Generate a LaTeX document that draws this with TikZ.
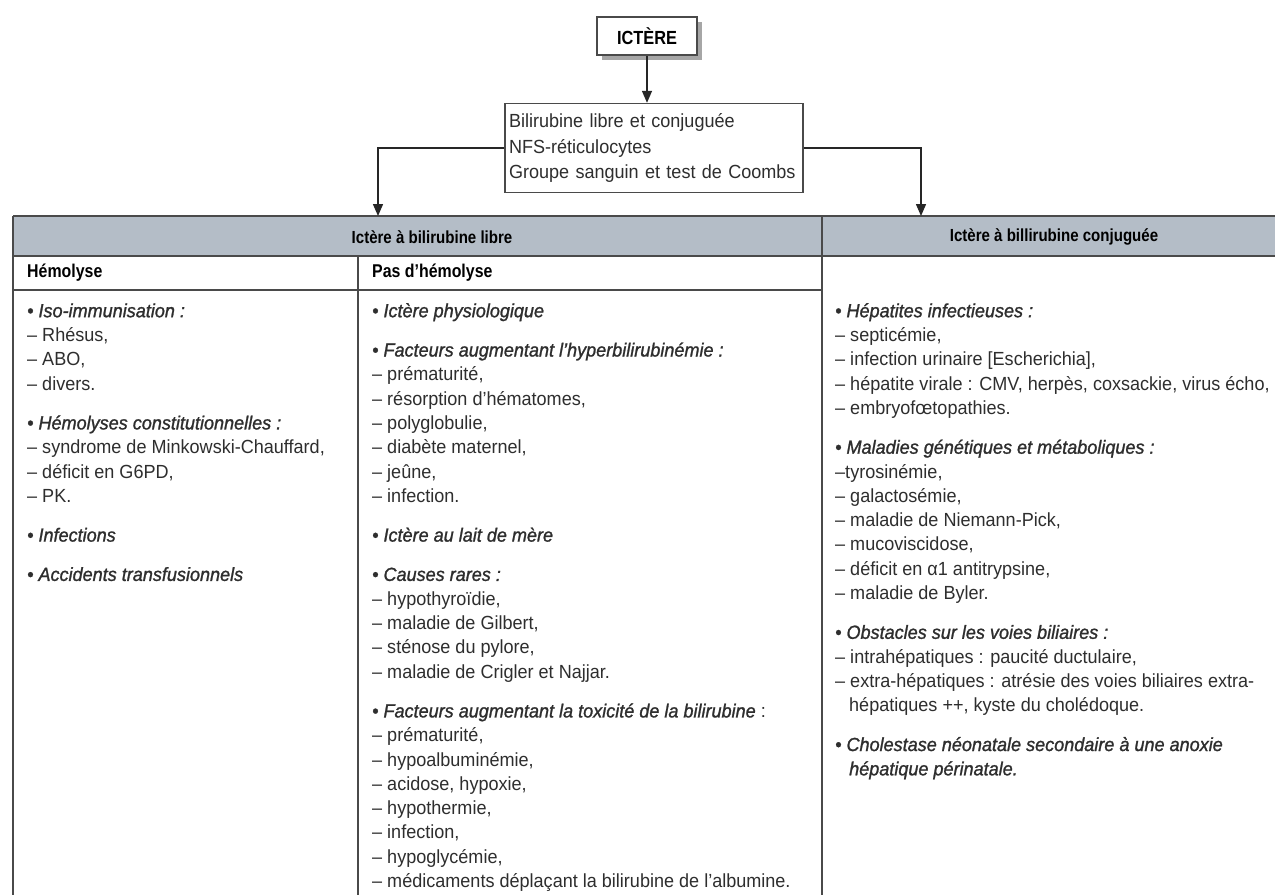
\documentclass[tikz,border=0pt]{standalone}
\usepackage{fontspec}
\setmainfont[FakeStretch=0.95]{Liberation Sans}
\newfontfamily\headit[FakeStretch=0.95,FakeBold=1.2]{Liberation Sans}
\newfontfamily\headbf[FakeStretch=0.86]{Liberation Sans}
\usetikzlibrary{arrows.meta,shadows}
\definecolor{rule}{HTML}{4A4A4A}
\definecolor{band}{HTML}{B4BDC7}
\definecolor{ink}{HTML}{2E2E2E}
\newcommand\kw[1]{{\headit\itshape #1}}

\begin{document}
\begin{tikzpicture}[x=1pt,y=-1pt,
  rulel/.style={draw=rule,line width=1.8pt},
  link/.style={draw=black!85,line width=1.4pt,-{Triangle[length=12pt,width=10pt]}},
  body/.style={anchor=north west,inner sep=0pt,align=left,text=ink,
    font=\fontsize{19}{24.3}\selectfont},
  cellhead/.style={anchor=base west,inner sep=0pt,text=black,
    font=\headbf\fontsize{18.5}{21}\selectfont\bfseries},
  bandtext/.style={inner sep=0pt,text=black,font=\headbf\fontsize{17.5}{21}\selectfont\bfseries}
]
\useasboundingbox (0,0) rectangle (1275,895);
\fill[white] (0,0) rectangle (1275,895);

% title box and the box of first tests
\node[draw=rule,line width=1.6pt,fill=white,minimum width=100pt,minimum height=38pt,
  drop shadow={shadow xshift=5pt,shadow yshift=-5pt,fill=gray!70,opacity=1},
  font=\headbf\fontsize{19}{21}\selectfont\bfseries] (ictere) at (647,36) {ICTÈRE};
\node[draw=rule,line width=1.4pt,fill=white,inner sep=4pt,text width=290pt,
  minimum height=89pt,align=left,text=ink,font=\fontsize{19}{25.5}\selectfont]
  (bili) at (654,148)
  {\raisebox{-3pt}{\parbox{290pt}{Bilirubine libre et conjuguée\\NFS-réticulocytes\\Groupe sanguin et test de Coombs}}};

% arrow ends on the top edge of the table
\coordinate (inL) at (378,216);
\coordinate (inR) at (921,216);

% table: heading band and rules
\fill[band] (13,216) rectangle (1275,256);
\draw[rulel] (13,216) -- (1275,216);
\draw[rulel] (13,256) -- (1275,256);
\draw[rulel] (13,290) -- (822,290);
\draw[rulel] (13,216) -- (13,895);
\draw[rulel] (358,256) -- (358,895);
\draw[rulel] (822,216) -- (822,895);

\draw[link] (ictere.south) -- (ictere.south |- bili.north);
\draw[link] (bili.west) -| (inL);
\draw[link] (bili.east) -| (inR);

\node[bandtext] (hlibre) at (432,237) {Ictère à bilirubine libre};
\node[bandtext] (hconj) at (1054,237) {Ictère à billirubine conjuguée};
\node[cellhead] (hemo) at (27,277) {Hémolyse};
\node[cellhead] (pashemo) at (372,277) {Pas d’hémolyse};

% column contents
\node[body] (colA) at (27,300) {\strut\kw{• Iso-immunisation :}\\
– Rhésus,\\
– ABO,\\
– divers.\\[15pt]
\kw{• Hémolyses constitutionnelles :}\\
– syndrome de Minkowski-Chauffard,\\
– déficit en G6PD,\\
– PK.\\[15pt]
\kw{• Infections}\\[15pt]
\kw{• Accidents transfusionnels}};

\node[body] (colB) at (372,300) {\strut\kw{• Ictère physiologique}\\[15pt]
\kw{• Facteurs augmentant l’hyperbilirubinémie :}\\
– prématurité,\\
– résorption d’hématomes,\\
– polyglobulie,\\
– diabète maternel,\\
– jeûne,\\
– infection.\\[15pt]
\kw{• Ictère au lait de mère}\\[15pt]
\kw{• Causes rares :}\\
– hypothyroïdie,\\
– maladie de Gilbert,\\
– sténose du pylore,\\
– maladie de Crigler et Najjar.\\[15pt]
\kw{• Facteurs augmentant la toxicité de la bilirubine} :\\
– prématurité,\\
– hypoalbuminémie,\\
– acidose, hypoxie,\\
– hypothermie,\\
– infection,\\
– hypoglycémie,\\
– médicaments déplaçant la bilirubine de l’albumine.};

\node[body] (colC) at (835,300) {\strut\kw{• Hépatites infectieuses :}\\
– septicémie,\\
– infection urinaire [Escherichia],\\
– hépatite virale : CMV, herpès, coxsackie, virus écho,\\
– embryofœtopathies.\\[15pt]
\kw{• Maladies génétiques et métaboliques :}\\
–tyrosinémie,\\
– galactosémie,\\
– maladie de Niemann-Pick,\\
– mucoviscidose,\\
– déficit en α1 antitrypsine,\\
– maladie de Byler.\\[15pt]
\kw{• Obstacles sur les voies biliaires :}\\
– intrahépatiques : paucité ductulaire,\\
– extra-hépatiques : atrésie des voies biliaires extra-\\
\hspace*{14pt}hépatiques ++, kyste du cholédoque.\\[15pt]
\kw{• Cholestase néonatale secondaire à une anoxie}\\
\hspace*{14pt}\kw{hépatique périnatale.}};
\end{tikzpicture}
\end{document}
